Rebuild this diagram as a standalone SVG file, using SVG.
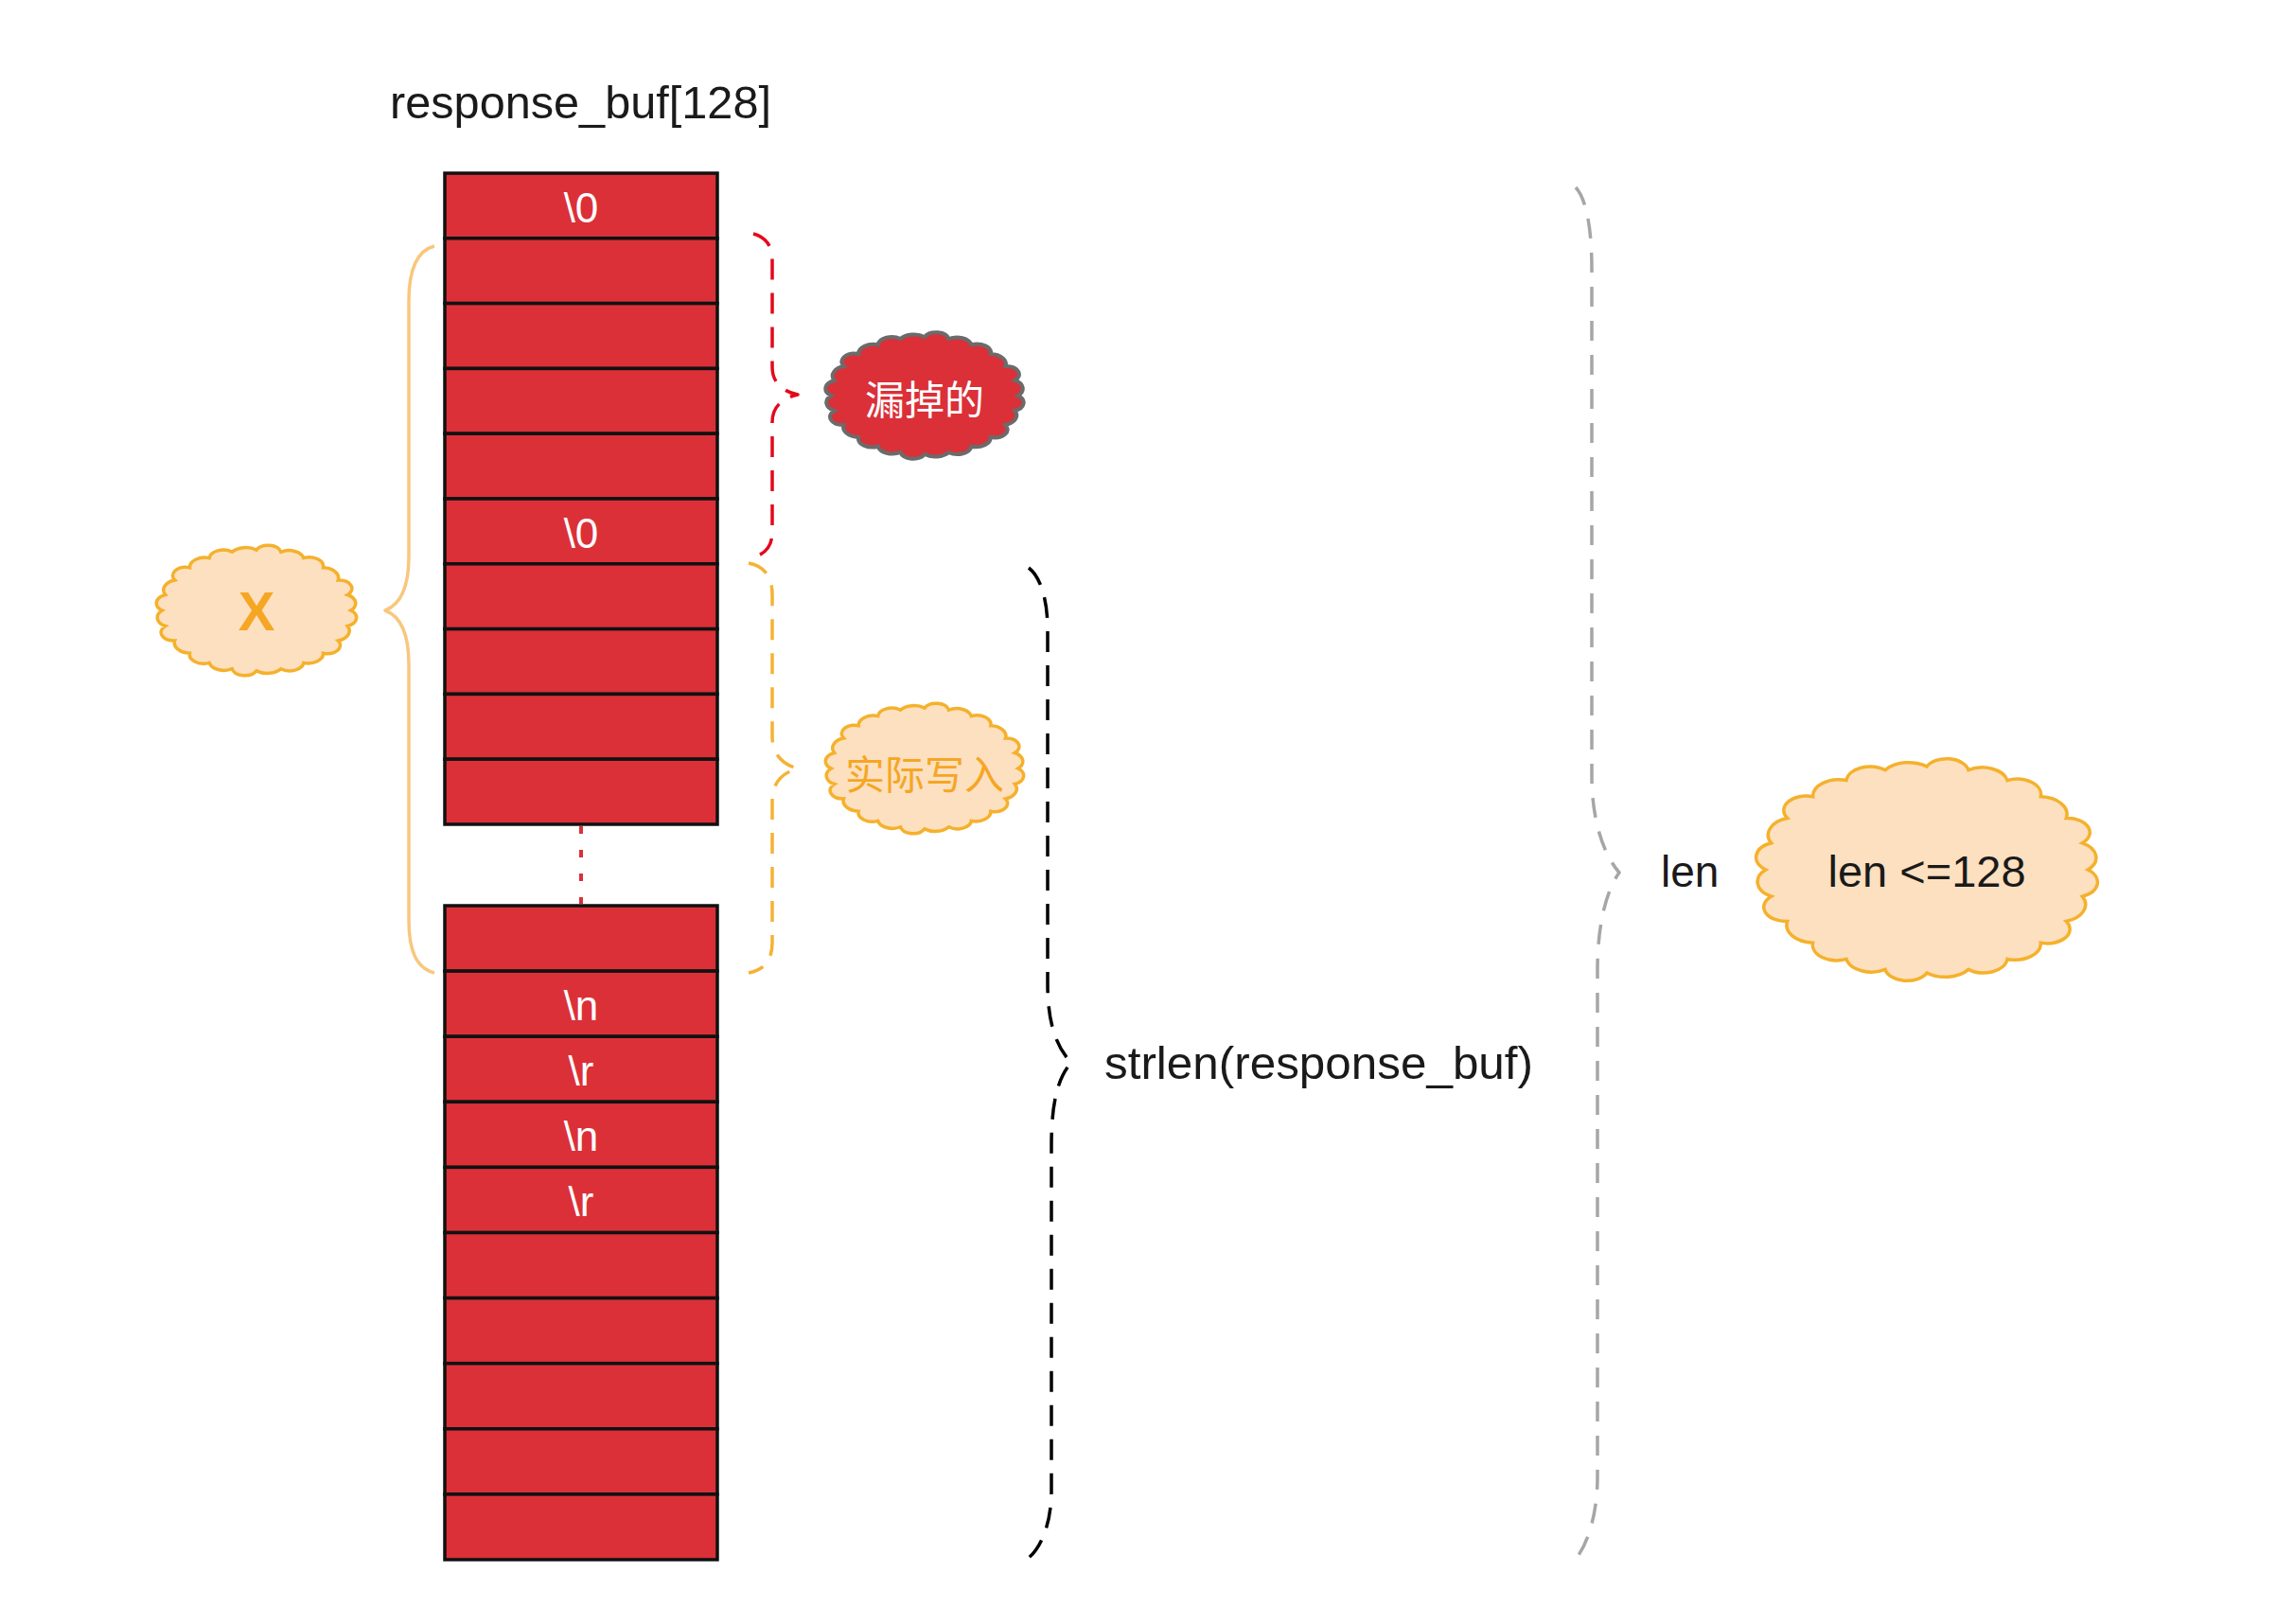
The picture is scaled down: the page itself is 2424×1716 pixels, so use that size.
<svg xmlns="http://www.w3.org/2000/svg" xmlns:xlink="http://www.w3.org/1999/xlink" width="2424" height="1716" viewBox="0 0 2424 1716">
<style>
  .lbl { font-family: "Liberation Sans", Arial, "Noto Sans CJK SC", sans-serif; fill: #1a1a1a; }
  .cell { fill: #DB3038; stroke: #111; stroke-width: 3.5; }
  .ctext { font-family: "Liberation Sans", Arial, sans-serif; font-size: 44px; fill: #ffffff; text-anchor: middle; }
  .cloud-peach { fill: #FDE0C0; stroke: #F5B12C; stroke-width: 3.5; }
  .cloud-red { fill: #DB3038; stroke: #6B6B6B; stroke-width: 4; }
  .cjk { font-family: "Noto Sans CJK SC", "Noto Sans", sans-serif; font-size: 42px; text-anchor: middle; }
  .brace { fill: none; stroke-linecap: butt; stroke-linejoin: round; }
</style>
<defs>
  <path id="cloud" vector-effect="non-scaling-stroke" d="M94,0 A14,14 0 0 1 90.8,24.3 A16,16 0 0 1 81.4,47 A13,13 0 0 1 66.5,66.5 A15,15 0 0 1 47,81.4 A14,14 0 0 1 24.3,90.8 A17,17 0 0 1 0,94 A13,13 0 0 1 -24.3,90.8 A15,15 0 0 1 -47,81.4 A14,14 0 0 1 -66.5,66.5 A16,16 0 0 1 -81.4,47 A13,13 0 0 1 -90.8,24.3 A15,15 0 0 1 -94,0 A14,14 0 0 1 -90.8,-24.3 A16,16 0 0 1 -81.4,-47 A13,13 0 0 1 -66.5,-66.5 A15,15 0 0 1 -47,-81.4 A14,14 0 0 1 -24.3,-90.8 A17,17 0 0 1 0,-94 A13,13 0 0 1 24.3,-90.8 A15,15 0 0 1 47,-81.4 A14,14 0 0 1 66.5,-66.5 A16,16 0 0 1 81.4,-47 A13,13 0 0 1 90.8,-24.3 A15,15 0 0 1 94,0 Z"/>
</defs>
<rect width="2424" height="1716" fill="#ffffff"/>

<g id="connectors">
  <path class="brace" stroke="#F8C77E" stroke-width="3.5" d="M459,260 C440,265 432,285 432,318 L432,588 C432,625 420,640 407,645 C420,650 432,665 432,702 L432,972 C432,1005 440,1023 459,1028"/>
  <path class="brace" stroke="#E3091B" stroke-width="3.5" stroke-dasharray="22 14" d="M796,247 C810,251 816,260 816,275 L816,388 C816,405 828,414 843,417 C828,420 816,429 816,446 L816,562 C816,578 808,587 791,590"/>
  <path class="brace" stroke="#F5B234" stroke-width="3.5" stroke-dasharray="22 14" d="M791,595 C808,598 816,610 816,628 L816,778 C816,798 828,808 843,812 C828,816 816,826 816,846 L816,996 C816,1014 808,1025 791,1028"/>
  <path class="brace" stroke="#000000" stroke-width="3.5" stroke-dasharray="22 14" d="M1087,600 C1100,610 1107,635 1107,665 L1107,1040 C1107,1085 1118,1108 1132,1123 C1118,1138 1111,1165 1111,1210 L1111,1575 C1111,1610 1100,1635 1087,1646"/>
  <path class="brace" stroke="#A6A6A6" stroke-width="3.5" stroke-dasharray="21 15" d="M1665,198 C1676,210 1682,240 1682,285 L1682,820 C1682,870 1696,905 1711,922 C1698,940 1688,975 1688,1025 L1688,1560 C1688,1600 1678,1630 1666,1646"/>
  <line x1="614" y1="873" x2="614" y2="955" stroke="#DB3038" stroke-width="4" stroke-dasharray="8 17"/>
</g>

<g id="title">
  <text class="lbl" x="412" y="125" font-size="49" textLength="403" lengthAdjust="spacingAndGlyphs">response_buf[128]</text>
</g>

<g id="buf-top">
  <rect class="cell" x="470" y="183" width="288" height="68.8"/>
  <rect class="cell" x="470" y="251.8" width="288" height="68.8"/>
  <rect class="cell" x="470" y="320.6" width="288" height="68.8"/>
  <rect class="cell" x="470" y="389.4" width="288" height="68.8"/>
  <rect class="cell" x="470" y="458.2" width="288" height="68.8"/>
  <rect class="cell" x="470" y="527" width="288" height="68.8"/>
  <rect class="cell" x="470" y="595.8" width="288" height="68.8"/>
  <rect class="cell" x="470" y="664.6" width="288" height="68.8"/>
  <rect class="cell" x="470" y="733.4" width="288" height="68.8"/>
  <rect class="cell" x="470" y="802.2" width="288" height="68.8"/>
  <text class="ctext" x="614" y="235">\0</text>
  <text class="ctext" x="614" y="579">\0</text>
</g>

<g id="buf-bottom">
  <rect class="cell" x="470" y="957" width="288" height="69.1"/>
  <rect class="cell" x="470" y="1026.1" width="288" height="69.1"/>
  <rect class="cell" x="470" y="1095.2" width="288" height="69.1"/>
  <rect class="cell" x="470" y="1164.3" width="288" height="69.1"/>
  <rect class="cell" x="470" y="1233.4" width="288" height="69.1"/>
  <rect class="cell" x="470" y="1302.5" width="288" height="69.1"/>
  <rect class="cell" x="470" y="1371.6" width="288" height="69.1"/>
  <rect class="cell" x="470" y="1440.7" width="288" height="69.1"/>
  <rect class="cell" x="470" y="1509.8" width="288" height="69.1"/>
  <rect class="cell" x="470" y="1578.9" width="288" height="69.1"/>
  <text class="ctext" x="614" y="1078">\n</text>
  <text class="ctext" x="614" y="1147">\r</text>
  <text class="ctext" x="614" y="1216">\n</text>
  <text class="ctext" x="614" y="1285">\r</text>
</g>

<g id="cloud-x">
  <use href="#cloud" xlink:href="#cloud" class="cloud-peach" transform="translate(271,645) scale(1.06,0.68)"/>
  <text x="271" y="666" font-family="Liberation Sans, Arial, sans-serif" font-weight="bold" font-size="58" fill="#F5A623" text-anchor="middle">X</text>
</g>

<g id="cloud-missed">
  <use href="#cloud" xlink:href="#cloud" class="cloud-red" transform="translate(977,418) scale(1.05,0.66)"/>
  <text class="cjk" x="977" y="438" fill="#ffffff">漏掉的</text>
</g>

<g id="cloud-written">
  <use href="#cloud" xlink:href="#cloud" class="cloud-peach" transform="translate(977,812) scale(1.05,0.68)"/>
  <text class="cjk" x="977" y="834" fill="#F5A623">实际写入</text>
</g>

<g id="label-strlen">
  <text class="lbl" x="1167" y="1140" font-size="49" textLength="453" lengthAdjust="spacingAndGlyphs">strlen(response_buf)</text>
</g>

<g id="label-len">
  <text class="lbl" x="1755" y="937" font-size="46">len</text>
</g>

<g id="cloud-len">
  <use href="#cloud" xlink:href="#cloud" class="cloud-peach" transform="translate(2036,919) scale(1.81,1.16)"/>
  <text class="lbl" x="2036" y="937" font-size="47" text-anchor="middle">len &lt;=128</text>
</g>
</svg>
